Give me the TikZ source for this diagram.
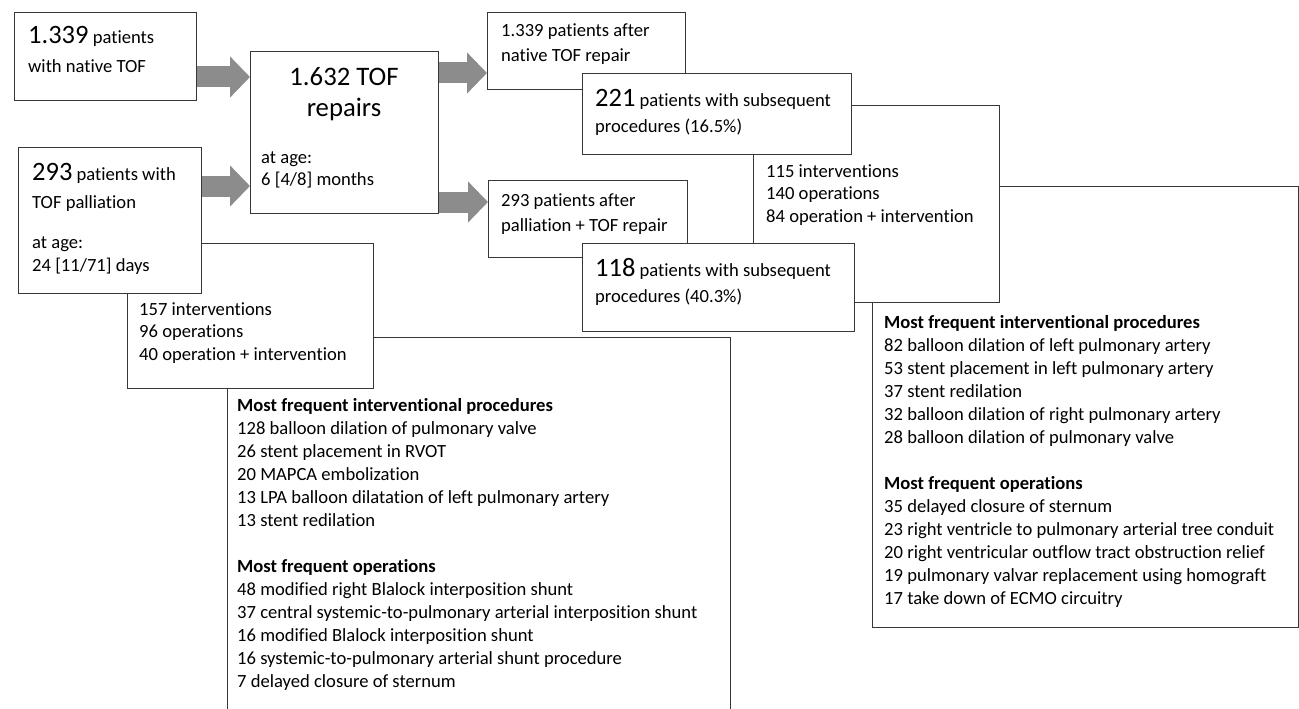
\documentclass[tikz,border=0pt]{standalone}
\usepackage{fontspec}
\setmainfont{Carlito}[Ligatures=NoCommon]
\usetikzlibrary{arrows.meta}
\definecolor{arrowgray}{RGB}{140,140,140}
\definecolor{boxline}{RGB}{55,55,55}
\newcommand{\bignum}[1]{{\fontsize{26.5}{31}\selectfont #1}}
\begin{document}
\begin{tikzpicture}[x=1pt,y=-1pt,
  box/.style={draw=boxline, line width=1.3pt, fill=white, rectangle, inner sep=0pt, anchor=north west},
  txt/.style={anchor=base west, inner sep=0pt, align=left, font=\fontsize{18.6}{23}\selectfont},
  titletxt/.style={anchor=base, inner sep=0pt, align=center, font=\fontsize{26.7}{31}\selectfont},
  bigarrow/.style={draw=arrowgray, line width=21pt, -{Triangle[width=40pt,length=20pt]}}]
\useasboundingbox (0,0) rectangle (1299,709);
\clip (0,0) rectangle (1299,709);
% boxes (back to front)
\node[box, minimum width=503pt, minimum height=375pt] (K) at (227,337) {};
\node[box, minimum width=246pt, minimum height=145pt] (J) at (127,243) {};
\node[box, minimum width=183pt, minimum height=146pt] (B) at (18,147) {};
\node[box, minimum width=182pt, minimum height=88pt] (A) at (14,12) {};
\node[box, minimum width=188pt, minimum height=162pt] (C) at (250,51) {};
\node[box, minimum width=426pt, minimum height=441pt] (I) at (872,186) {};
\node[box, minimum width=246pt, minimum height=197pt] (F) at (753,105) {};
\node[box, minimum width=198pt, minimum height=77pt] (D) at (487,12) {};
\node[box, minimum width=269pt, minimum height=81pt] (E) at (582,73) {};
\node[box, minimum width=199pt, minimum height=77pt] (G) at (488,180) {};
\node[box, minimum width=272pt, minimum height=88pt] (H) at (582,243) {};
% texts (anchor = baseline of the last line)
\node[txt] (Atext) at (28,73) {\bignum{1.339} patients\\[6pt]with native TOF};
\node[txt] (Btext) at (32,271) {\bignum{293} patients with\\[5pt]TOF palliation\\[17pt]at age:\\24 [11/71] days};
\node[titletxt] (Ctitle) at (344,116) {1.632 TOF\\repairs};
\node[txt] (Ctext) at (261,185) {at age:\\[-1pt]6 [4/8] months};
\node[txt] (Dtext) at (501,62) {1.339 patients after\\[2pt]native TOF repair};
\node[txt] (Etext) at (595,132) {\bignum{221} patients with subsequent\\[3pt]procedures (16.5\%)};
\node[txt] (Ftext) at (766,222) {115 interventions\\[-0.5pt]140 operations\\[-0.5pt]84 operation + intervention};
\node[txt] (Gtext) at (501,231) {293 patients after\\[2pt]palliation + TOF repair};
\node[txt] (Htext) at (595,302) {\bignum{118} patients with subsequent\\[3pt]procedures (40.3\%)};
\node[txt] (Jtext) at (139,360) {157 interventions\\[-0.5pt]96 operations\\[-0.5pt]40 operation + intervention};
\node[txt] (Ktext) at (237,687) {\textbf{Most frequent interventional procedures}\\
128 balloon dilation of pulmonary valve\\
26 stent placement in RVOT\\
20 MAPCA embolization\\
13 LPA balloon dilatation of left pulmonary artery\\
13 stent redilation\\[23pt]
\textbf{Most frequent operations}\\
48 modified right Blalock interposition shunt\\
37 central systemic-to-pulmonary arterial interposition shunt\\
16 modified Blalock interposition shunt\\
16 systemic-to-pulmonary arterial shunt procedure\\
7 delayed closure of sternum};
\node[txt] (Itext) at (884,604) {\textbf{Most frequent interventional procedures}\\
82 balloon dilation of left pulmonary artery\\
53 stent placement in left pulmonary artery\\
37 stent redilation\\
32 balloon dilation of right pulmonary artery\\
28 balloon dilation of pulmonary valve\\[23pt]
\textbf{Most frequent operations}\\
35 delayed closure of sternum\\
23 right ventricle to pulmonary arterial tree conduit\\
20 right ventricular outflow tract obstruction relief\\
19 pulmonary valvar replacement using homograft\\
17 take down of ECMO circuitry};
% arrows
\draw[bigarrow] (A.east |- 0,77) -- (C.west |- 0,77);
\draw[bigarrow] (B.east |- 0,186) -- (C.west |- 0,186);
\draw[bigarrow] (C.east |- 0,73) -- (D.west |- 0,73);
\draw[bigarrow] (C.east |- 0,202) -- (G.west |- 0,202);
\end{tikzpicture}
\end{document}
